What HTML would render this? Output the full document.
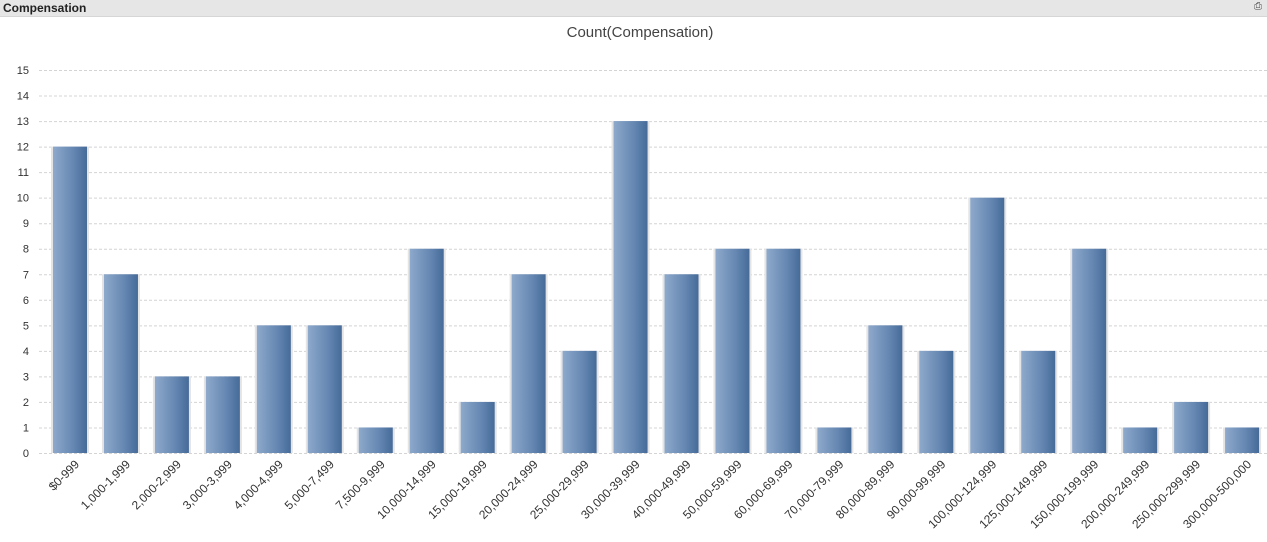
<!DOCTYPE html>
<html><head><meta charset="utf-8"><style>
body{margin:0;width:1267px;height:542px;background:#fff;overflow:hidden;font-family:"Liberation Sans",sans-serif}
#hdr{position:absolute;left:0;top:0;width:1267px;height:16px;background:#e6e6e6;border-bottom:1px solid #d6d6d6}
#hdr span{position:absolute;left:3px;top:1px;font-size:12px;font-weight:bold;color:#222}
#hdr i{position:absolute;right:5px;top:1px;font-size:10px;font-style:normal;color:#444}
</style></head><body>
<div id="hdr"><span>Compensation</span><i>⎙</i></div>
<svg id="c" width="1267" height="542" style="position:absolute;left:0;top:0">
<defs><linearGradient id="g" x1="0" x2="1"><stop offset="0" stop-color="#8ea9cb"/><stop offset="0.6" stop-color="#6587b2"/><stop offset="1" stop-color="#466b99"/></linearGradient></defs>
<text x="640" y="37" text-anchor="middle" font-size="15" fill="#444">Count(Compensation)</text>
</svg>
<script>
const categories=["$0-999","1,000-1,999","2,000-2,999","3,000-3,999","4,000-4,999","5,000-7,499","7,500-9,999","10,000-14,999","15,000-19,999","20,000-24,999","25,000-29,999","30,000-39,999","40,000-49,999","50,000-59,999","60,000-69,999","70,000-79,999","80,000-89,999","90,000-99,999","100,000-124,999","125,000-149,999","150,000-199,999","200,000-249,999","250,000-299,999","300,000-500,000"];
const values=[12,7,3,3,5,5,1,8,2,7,4,13,7,8,8,1,5,4,10,4,8,1,2,1];
const yTicks=[0,1,2,3,4,5,6,7,8,9,10,11,12,13,14,15];
const svg=document.getElementById('c');const NS='http://www.w3.org/2000/svg';
const y0=453,unit=(453-70)/15;
const y=v=>y0-v*unit;
const x=i=>70+i*50.96;
function mk(t,a){const e=document.createElementNS(NS,t);for(const k in a)e.setAttribute(k,a[k]);svg.appendChild(e);return e;}
yTicks.forEach(v=>{
 const l=mk('line',{x1:39,x2:1267,y1:y(v)+0.5,y2:y(v)+0.5,stroke:'#d4d4d4','stroke-dasharray':'3,2'});
 
 
 const t=mk('text',{x:29,y:y(v)+4,'text-anchor':'end','font-size':11,fill:'#333'});t.textContent=v;
 
 
});
values.forEach((v,i)=>{
 const s=mk('rect',{x:x(i)-19,y:y(v),width:38,height:y0-y(v),fill:'#e4e4e4'});
 
 
 const b=mk('rect',{x:x(i)-17,y:y(v),width:34,height:y0-y(v),fill:'url(#g)'});
 
 
 const ax=x(i)+10,ay=y0+12;
 const t=mk('text',{x:ax,y:ay,'text-anchor':'end','font-size':12,fill:'#333',transform:`rotate(-45 ${ax} ${ay})`});
 t.textContent=categories[i];
 
 
});
</script>
</body></html>
